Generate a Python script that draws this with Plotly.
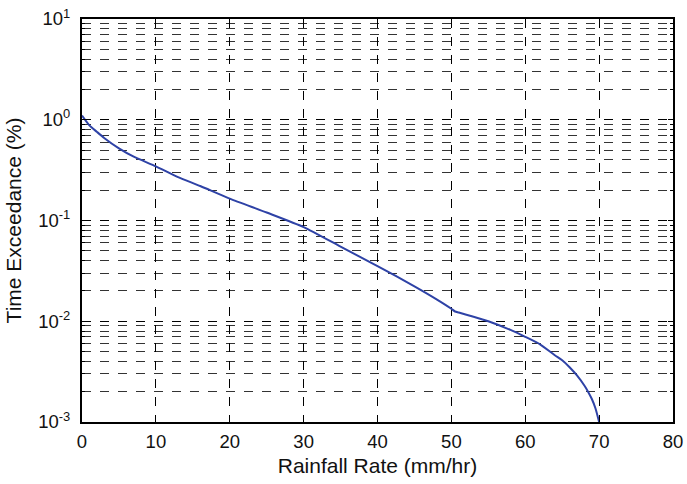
import plotly.graph_objects as go

rain_rate = [0, 1, 2, 3, 5, 7, 10, 13, 16, 20, 25, 30, 35, 40, 45, 48, 50,
             50.5, 51, 53, 55, 58, 60, 62, 64, 65, 66, 67, 68, 68.5, 69, 69.5, 70]
exceedance = [1.1, 0.88, 0.76, 0.66, 0.52, 0.43, 0.345, 0.27, 0.22, 0.165,
              0.12, 0.086, 0.055, 0.0353, 0.0222, 0.0165, 0.0133,
              0.0125, 0.0122, 0.0111, 0.0100, 0.0082, 0.0070, 0.0059, 0.0046,
              0.0041, 0.0035, 0.0029, 0.0023, 0.0020, 0.0017, 0.00137, 0.001]

x_ticks = [0, 10, 20, 30, 40, 50, 60, 70, 80]
y_major = [1e-3, 1e-2, 1e-1, 1e0, 1e1]
y_major_text = ["10<sup>-3</sup>", "10<sup>-2</sup>", "10<sup>-1</sup>",
                "10<sup>0</sup>", "10<sup>1</sup>"]
y_minor = [m * d for d in [1e-3, 1e-2, 1e-1, 1e0] for m in range(2, 10)]

fig = go.Figure()
fig.add_trace(go.Scatter(x=rain_rate, y=exceedance, mode="lines",
                         line=dict(color="#2E42A6", width=2, shape="spline",
                                   smoothing=0.6),
                         showlegend=False))

font = dict(family="Liberation Sans, Arial, sans-serif", size=18.5, color="#111")

fig.update_layout(
    width=687, height=484,
    margin=dict(l=82, r=14, t=19, b=62),
    paper_bgcolor="white", plot_bgcolor="white",
    font=font,
    xaxis=dict(
        range=[0, 80], tickvals=x_ticks, ticks="inside", ticklen=5,
        tickcolor="black", showline=True, linecolor="black", linewidth=2,
        mirror="allticks", showgrid=True, gridcolor="black", griddash="dash",
        gridwidth=1, zeroline=False, automargin=False, ticklabelstandoff=2,
        ticklabeloverflow="allow",
        title=dict(text="Rainfall Rate (mm/hr)", standoff=7,
                   font=dict(size=21)),
    ),
    yaxis=dict(
        type="log", range=[-3, 1], tickvals=y_major, ticktext=y_major_text,
        ticks="inside", ticklen=5, tickcolor="black", showline=True,
        linecolor="black", linewidth=2, mirror="allticks", showgrid=True,
        gridcolor="black", griddash="dash", gridwidth=1, zeroline=False,
        automargin=False, ticklabelstandoff=6, ticklabeloverflow="allow",
        minor=dict(tickvals=y_minor, ticks="inside", ticklen=3,
                   tickcolor="black", showgrid=True, gridcolor="#333",
                   griddash="dash", gridwidth=1),
        title=dict(text="Time Exceedance (%)", standoff=11,
                   font=dict(size=21)),
    ),
)

fig.write_html("out.html", config={"displayModeBar": False},
               post_script="document.body.style.margin='0';"
                           "document.body.style.padding='0';")
